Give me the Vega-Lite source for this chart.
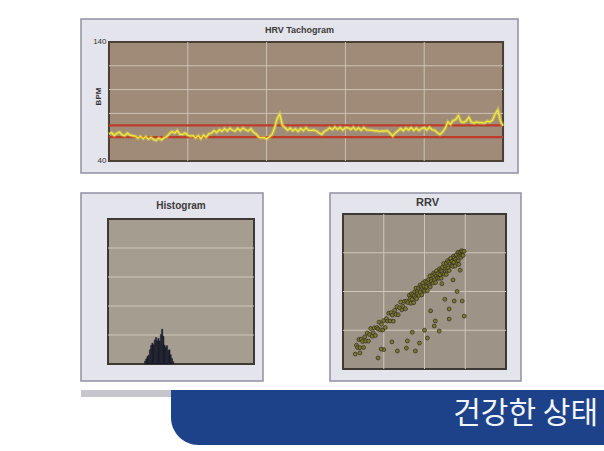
{
 "$schema": "https://vega.github.io/schema/vega-lite/v6.json",
 "background": "white",
 "padding": {"left": 80, "top": 18, "right": 0, "bottom": 0},
 "config": {"font": "Liberation Sans", "view": {"stroke": null}},
 "spacing": 8,
 "vconcat": [
  {
   "spacing": 18,
   "vconcat": [
    {
     "width": 437, "height": 154,
     "view": {"fill": "#e4e4ec", "stroke": "#8f90a2", "strokeWidth": 1.5},
     "title": {"text": "HRV Tachogram", "offset": -16, "fontSize": 9, "fontWeight": "bold", "color": "#3a3a3a"},
     "data": {"values": [{}]},
     "layer": [
      {"mark": {"type": "rect", "fill": "#a08a78", "stroke": "#4a4036", "strokeWidth": 2},
       "encoding": {
        "x": {"datum": 0, "type": "quantitative", "scale": {"domain": [-21.3, 311.4], "nice": false, "zero": false}, "axis": null},
        "x2": {"datum": 300},
        "y": {"datum": 40, "type": "quantitative", "scale": {"domain": [29.9, 159.3], "nice": false, "zero": false},
              "axis": {"values": [40, 140], "offset": -28, "grid": false, "domain": false, "ticks": false, "labelFontSize": 8, "labelColor": "#333333", "labelPadding": 3, "title": "BPM", "titleFontSize": 8, "titleFontWeight": "bold", "titleColor": "#333333", "titlePadding": -10, "zindex": 1}},
        "y2": {"datum": 140}
       }},
      {"mark": {"type": "rule", "color": "#cbc2b6", "strokeWidth": 1}, "encoding": {"x": {"datum": 60}, "y": {"datum": 40}, "y2": {"datum": 140}}},
      {"mark": {"type": "rule", "color": "#cbc2b6", "strokeWidth": 1}, "encoding": {"x": {"datum": 120}, "y": {"datum": 40}, "y2": {"datum": 140}}},
      {"mark": {"type": "rule", "color": "#cbc2b6", "strokeWidth": 1}, "encoding": {"x": {"datum": 180}, "y": {"datum": 40}, "y2": {"datum": 140}}},
      {"mark": {"type": "rule", "color": "#cbc2b6", "strokeWidth": 1}, "encoding": {"x": {"datum": 240}, "y": {"datum": 40}, "y2": {"datum": 140}}},
      {"mark": {"type": "rule", "color": "#cbc2b6", "strokeWidth": 1}, "encoding": {"y": {"datum": 80}, "x": {"datum": 0}, "x2": {"datum": 300}}},
      {"mark": {"type": "rule", "color": "#cbc2b6", "strokeWidth": 1}, "encoding": {"y": {"datum": 100}, "x": {"datum": 0}, "x2": {"datum": 300}}},
      {"mark": {"type": "rule", "color": "#cbc2b6", "strokeWidth": 1}, "encoding": {"y": {"datum": 120}, "x": {"datum": 0}, "x2": {"datum": 300}}},
      {"mark": {"type": "rule", "color": "#bd3b2b", "strokeWidth": 2.2}, "encoding": {"y": {"datum": 60}, "x": {"datum": 0}, "x2": {"datum": 300}}},
      {"mark": {"type": "rule", "color": "#bd3b2b", "strokeWidth": 2.2}, "encoding": {"y": {"datum": 70}, "x": {"datum": 0}, "x2": {"datum": 300}}},
      {
       "data": {"name": "tacho", "values": [
        {"t":0,"bpm":62.5},{"t":2,"bpm":63.9},{"t":4,"bpm":61.4},{"t":6,"bpm":63.2},{"t":8,"bpm":64.3},{"t":10,"bpm":61.9},{"t":12,"bpm":61.2},{"t":14,"bpm":63.4},{"t":16,"bpm":61.8},{"t":18,"bpm":61.2},
        {"t":20,"bpm":60.9},{"t":22,"bpm":59.2},{"t":24,"bpm":60.8},{"t":26,"bpm":58.7},{"t":28,"bpm":60.5},{"t":30,"bpm":58.3},{"t":32,"bpm":59.9},{"t":34,"bpm":57.9},{"t":36,"bpm":57.3},{"t":38,"bpm":59.3},
        {"t":40,"bpm":57.7},{"t":42,"bpm":59.6},{"t":44,"bpm":60.4},{"t":46,"bpm":63.0},{"t":48,"bpm":64.8},{"t":50,"bpm":63.3},{"t":52,"bpm":65.6},{"t":54,"bpm":62.4},{"t":56,"bpm":62.3},{"t":58,"bpm":63.5},
        {"t":60,"bpm":61.6},{"t":62,"bpm":60.9},{"t":64,"bpm":61.3},{"t":66,"bpm":59.4},{"t":68,"bpm":61.3},{"t":70,"bpm":58.8},{"t":72,"bpm":61.7},{"t":74,"bpm":59.8},{"t":76,"bpm":62.8},{"t":78,"bpm":63.4},
        {"t":80,"bpm":65.5},{"t":82,"bpm":63.8},{"t":84,"bpm":66.4},{"t":86,"bpm":64.9},{"t":88,"bpm":67.2},{"t":90,"bpm":65.2},{"t":92,"bpm":67.5},{"t":94,"bpm":65.8},{"t":96,"bpm":65.0},{"t":98,"bpm":67.3},
        {"t":100,"bpm":65.4},{"t":102,"bpm":67.7},{"t":104,"bpm":66.0},{"t":106,"bpm":65.1},{"t":108,"bpm":67.1},{"t":110,"bpm":64.2},{"t":112,"bpm":62.7},{"t":114,"bpm":60.0},{"t":116,"bpm":59.5},{"t":118,"bpm":59.8},
        {"t":120,"bpm":58.4},{"t":122,"bpm":60.1},{"t":124,"bpm":62.1},{"t":126,"bpm":67.4},{"t":128,"bpm":75.5},{"t":130,"bpm":79.4},{"t":132,"bpm":70.1},{"t":134,"bpm":68.0},{"t":136,"bpm":65.9},{"t":138,"bpm":67.6},
        {"t":140,"bpm":65.3},{"t":142,"bpm":67.0},{"t":144,"bpm":64.8},{"t":146,"bpm":67.3},{"t":148,"bpm":65.5},{"t":150,"bpm":67.8},{"t":152,"bpm":65.7},{"t":154,"bpm":65.7},{"t":156,"bpm":66.1},{"t":158,"bpm":65.2},
        {"t":160,"bpm":63.5},{"t":162,"bpm":62.4},{"t":164,"bpm":65.0},{"t":166,"bpm":66.0},{"t":168,"bpm":67.9},{"t":170,"bpm":66.3},{"t":172,"bpm":68.5},{"t":174,"bpm":66.5},{"t":176,"bpm":68.2},{"t":178,"bpm":65.9},
        {"t":180,"bpm":68.0},{"t":182,"bpm":67.9},{"t":184,"bpm":66.4},{"t":186,"bpm":68.3},{"t":188,"bpm":66.1},{"t":190,"bpm":67.8},{"t":192,"bpm":65.8},{"t":194,"bpm":68.1},{"t":196,"bpm":66.2},{"t":198,"bpm":65.9},
        {"t":200,"bpm":66.0},{"t":202,"bpm":65.3},{"t":204,"bpm":65.4},{"t":206,"bpm":64.7},{"t":208,"bpm":65.2},{"t":210,"bpm":65.1},{"t":212,"bpm":65.5},{"t":214,"bpm":63.2},{"t":216,"bpm":61.0},{"t":218,"bpm":63.6},
        {"t":220,"bpm":65.3},{"t":222,"bpm":67.3},{"t":224,"bpm":65.4},{"t":226,"bpm":67.7},{"t":228,"bpm":66.0},{"t":230,"bpm":68.0},{"t":232,"bpm":65.7},{"t":234,"bpm":67.6},{"t":236,"bpm":65.5},{"t":238,"bpm":67.2},
        {"t":240,"bpm":68.1},{"t":242,"bpm":65.9},{"t":244,"bpm":68.3},{"t":246,"bpm":66.2},{"t":248,"bpm":65.8},{"t":250,"bpm":63.7},{"t":252,"bpm":62.3},{"t":254,"bpm":64.3},{"t":256,"bpm":67.6},{"t":258,"bpm":72.8},
        {"t":260,"bpm":70.7},{"t":262,"bpm":74.0},{"t":264,"bpm":74.8},{"t":266,"bpm":78.2},{"t":268,"bpm":73.0},{"t":270,"bpm":72.3},{"t":272,"bpm":73.7},{"t":274,"bpm":76.7},{"t":276,"bpm":72.4},{"t":278,"bpm":71.9},
        {"t":280,"bpm":72.8},{"t":282,"bpm":72.2},{"t":284,"bpm":72.2},{"t":286,"bpm":71.8},{"t":288,"bpm":73.5},{"t":290,"bpm":72.7},{"t":292,"bpm":74.4},{"t":294,"bpm":79.5},{"t":296,"bpm":83.0},{"t":298,"bpm":73.8},
        {"t":300,"bpm":69.5}
       ]},
       "layer": [
        {"mark": {"type": "line", "color": "#d6ce4a", "strokeWidth": 3.6, "opacity": 0.5}, "encoding": {"x": {"field": "t", "type": "quantitative"}, "y": {"field": "bpm", "type": "quantitative"}}},
        {"mark": {"type": "line", "color": "#f1e93e", "strokeWidth": 1.3}, "encoding": {"x": {"field": "t", "type": "quantitative"}, "y": {"field": "bpm", "type": "quantitative"}}}
       ]
      }
     ]
    },
    {
     "spacing": 65,
     "hconcat": [
      {
       "width": 182, "height": 188,
       "view": {"fill": "#e4e4ec", "stroke": "#8f90a2", "strokeWidth": 1.5},
       "title": {"text": "Histogram", "offset": -18, "fontSize": 10, "fontWeight": "bold", "color": "#3a3a3a", "dx": 9},
       "data": {"values": [{}]},
       "layer": [
        {"mark": {"type": "rect", "fill": "#a59d8f", "stroke": "#3e3a33", "strokeWidth": 2},
         "encoding": {
          "x": {"datum": 500, "type": "quantitative", "scale": {"domain": [278, 1774], "nice": false, "zero": false}, "axis": null},
          "x2": {"datum": 1700},
          "y": {"datum": 0, "type": "quantitative", "scale": {"domain": [-5.86, 58.97], "nice": false, "zero": false}, "axis": null},
          "y2": {"datum": 50}
         }},
        {"mark": {"type": "rule", "color": "#cdc6ba", "strokeWidth": 1}, "encoding": {"y": {"datum": 10}, "x": {"datum": 500}, "x2": {"datum": 1700}}},
        {"mark": {"type": "rule", "color": "#cdc6ba", "strokeWidth": 1}, "encoding": {"y": {"datum": 20}, "x": {"datum": 500}, "x2": {"datum": 1700}}},
        {"mark": {"type": "rule", "color": "#cdc6ba", "strokeWidth": 1}, "encoding": {"y": {"datum": 30}, "x": {"datum": 500}, "x2": {"datum": 1700}}},
        {"mark": {"type": "rule", "color": "#cdc6ba", "strokeWidth": 1}, "encoding": {"y": {"datum": 40}, "x": {"datum": 500}, "x2": {"datum": 1700}}},
        {
         "data": {"values": [
          {"b0":800,"b1":810,"n":1.0},{"b0":810,"b1":820,"n":1.8},{"b0":820,"b1":830,"n":2.6},{"b0":830,"b1":840,"n":3.1},
          {"b0":840,"b1":850,"n":4.9},{"b0":850,"b1":860,"n":6.4},{"b0":860,"b1":870,"n":7.2},{"b0":870,"b1":880,"n":6.6},
          {"b0":880,"b1":890,"n":8.3},{"b0":890,"b1":900,"n":9.1},{"b0":900,"b1":910,"n":8.0},{"b0":910,"b1":920,"n":8.8},
          {"b0":920,"b1":930,"n":7.9},{"b0":930,"b1":940,"n":10.2},{"b0":940,"b1":950,"n":12.0},{"b0":950,"b1":960,"n":9.6},
          {"b0":960,"b1":970,"n":6.5},{"b0":970,"b1":980,"n":5.8},{"b0":980,"b1":990,"n":6.3},{"b0":990,"b1":1000,"n":4.7},
          {"b0":1000,"b1":1010,"n":4.9},{"b0":1010,"b1":1020,"n":3.2},{"b0":1020,"b1":1030,"n":1.9},{"b0":1030,"b1":1040,"n":0.9}
         ]},
         "mark": {"type": "rect", "fill": "#1b1e2c", "stroke": "#1b1e2c", "strokeWidth": 0.5},
         "encoding": {
          "x": {"field": "b0", "type": "quantitative"},
          "x2": {"field": "b1"},
          "y": {"field": "n", "type": "quantitative"},
          "y2": {"datum": 0}
         }
        }
       ]
      },
      {
       "width": 191, "height": 188,
       "view": {"fill": "#e4e4ec", "stroke": "#8f90a2", "strokeWidth": 1.5},
       "title": {"text": "RRV", "offset": -15, "fontSize": 11, "fontWeight": "bold", "color": "#3a3a3a", "dx": 2},
       "data": {"values": [{}]},
       "layer": [
        {"mark": {"type": "rect", "fill": "#9d9487", "stroke": "#3e3a33", "strokeWidth": 2},
         "encoding": {
          "x": {"datum": 500, "type": "quantitative", "scale": {"domain": [436.2, 1373.6], "nice": false, "zero": false}, "axis": null},
          "x2": {"datum": 1300},
          "y": {"datum": 500, "type": "quantitative", "scale": {"domain": [438.1, 1408.4], "nice": false, "zero": false}, "axis": null},
          "y2": {"datum": 1300}
         }},
        {"mark": {"type": "rule", "color": "#cdc6ba", "strokeWidth": 1}, "encoding": {"x": {"datum": 700}, "y": {"datum": 500}, "y2": {"datum": 1300}}},
        {"mark": {"type": "rule", "color": "#cdc6ba", "strokeWidth": 1}, "encoding": {"x": {"datum": 900}, "y": {"datum": 500}, "y2": {"datum": 1300}}},
        {"mark": {"type": "rule", "color": "#cdc6ba", "strokeWidth": 1}, "encoding": {"x": {"datum": 1100}, "y": {"datum": 500}, "y2": {"datum": 1300}}},
        {"mark": {"type": "rule", "color": "#cdc6ba", "strokeWidth": 1}, "encoding": {"y": {"datum": 700}, "x": {"datum": 500}, "x2": {"datum": 1300}}},
        {"mark": {"type": "rule", "color": "#cdc6ba", "strokeWidth": 1}, "encoding": {"y": {"datum": 900}, "x": {"datum": 500}, "x2": {"datum": 1300}}},
        {"mark": {"type": "rule", "color": "#cdc6ba", "strokeWidth": 1}, "encoding": {"y": {"datum": 1100}, "x": {"datum": 500}, "x2": {"datum": 1300}}},
        {
         "data": {"values": [
          {"rr":560,"rr1":577},{"rr":566,"rr1":623},{"rr":571,"rr1":611},{"rr":578,"rr1":652},{"rr":583,"rr1":610},{"rr":589,"rr1":654},{"rr":596,"rr1":642},{"rr":601,"rr1":611},
          {"rr":607,"rr1":666},{"rr":612,"rr1":644},{"rr":619,"rr1":686},{"rr":625,"rr1":644},{"rr":630,"rr1":678},{"rr":636,"rr1":709},{"rr":643,"rr1":669},{"rr":648,"rr1":687},
          {"rr":654,"rr1":712},{"rr":659,"rr1":673},{"rr":666,"rr1":714},{"rr":672,"rr1":707},{"rr":677,"rr1":742},{"rr":684,"rr1":702},{"rr":689,"rr1":731},{"rr":695,"rr1":701},
          {"rr":700,"rr1":750},{"rr":707,"rr1":714},{"rr":713,"rr1":760},{"rr":718,"rr1":748},{"rr":724,"rr1":788},{"rr":731,"rr1":748},{"rr":736,"rr1":791},{"rr":742,"rr1":778},
          {"rr":747,"rr1":747},{"rr":754,"rr1":803},{"rr":760,"rr1":782},{"rr":765,"rr1":822},{"rr":771,"rr1":780},{"rr":778,"rr1":816},{"rr":783,"rr1":846},{"rr":789,"rr1":805},
          {"rr":794,"rr1":824},{"rr":801,"rr1":849},{"rr":807,"rr1":811},{"rr":812,"rr1":850},{"rr":818,"rr1":843},{"rr":825,"rr1":880},
          {"rr":830,"rr1":865},{"rr":833,"rr1":839},{"rr":835,"rr1":889},{"rr":839,"rr1":859},{"rr":842,"rr1":883},{"rr":847,"rr1":842},{"rr":849,"rr1":877},{"rr":852,"rr1":899},
          {"rr":856,"rr1":868},{"rr":858,"rr1":917},{"rr":861,"rr1":862},{"rr":864,"rr1":900},{"rr":866,"rr1":889},{"rr":870,"rr1":918},{"rr":873,"rr1":880},{"rr":878,"rr1":933},
          {"rr":880,"rr1":895},{"rr":883,"rr1":924},{"rr":887,"rr1":883},{"rr":889,"rr1":916},{"rr":892,"rr1":944},{"rr":895,"rr1":906},{"rr":897,"rr1":928},{"rr":901,"rr1":902},
          {"rr":904,"rr1":953},{"rr":909,"rr1":925},{"rr":911,"rr1":948},{"rr":914,"rr1":904},{"rr":918,"rr1":941},{"rr":920,"rr1":962},{"rr":923,"rr1":931},{"rr":926,"rr1":981},
          {"rr":928,"rr1":924},{"rr":932,"rr1":963},{"rr":935,"rr1":953},{"rr":940,"rr1":984},{"rr":942,"rr1":944},{"rr":945,"rr1":995},{"rr":949,"rr1":959},{"rr":951,"rr1":988},
          {"rr":954,"rr1":946},{"rr":957,"rr1":979},{"rr":959,"rr1":1006},{"rr":963,"rr1":969},{"rr":966,"rr1":992},{"rr":971,"rr1":968},{"rr":973,"rr1":1017},{"rr":976,"rr1":987},
          {"rr":980,"rr1":1012},{"rr":982,"rr1":968},{"rr":985,"rr1":1004},{"rr":988,"rr1":1025},{"rr":990,"rr1":993},{"rr":994,"rr1":1044},{"rr":997,"rr1":989},{"rr":1002,"rr1":1028},
          {"rr":1004,"rr1":1017},{"rr":1007,"rr1":1046},{"rr":1011,"rr1":1009},{"rr":1013,"rr1":1059},{"rr":1016,"rr1":1021},{"rr":1019,"rr1":1051},{"rr":1021,"rr1":1008},{"rr":1025,"rr1":1043},
          {"rr":1028,"rr1":1071},{"rr":1033,"rr1":1034},{"rr":1035,"rr1":1056},{"rr":1038,"rr1":1030},{"rr":1042,"rr1":1082},{"rr":1044,"rr1":1051},{"rr":1047,"rr1":1074},{"rr":1050,"rr1":1031},
          {"rr":1052,"rr1":1066},{"rr":1056,"rr1":1089},{"rr":1059,"rr1":1058},{"rr":1064,"rr1":1102},{"rr":1066,"rr1":1058},{"rr":1069,"rr1":1089},{"rr":1073,"rr1":1082},{"rr":1075,"rr1":1102},
          {"rr":1078,"rr1":1076},{"rr":1081,"rr1":1110},{"rr":1083,"rr1":1088},{"rr":1087,"rr1":1108},{"rr":1090,"rr1":1086},{"rr":1095,"rr1":1108},
          {"rr":1085,"rr1":851},{"rr":1095,"rr1":773},{"rr":1021,"rr1":758},{"rr":948,"rr1":722},{"rr":972,"rr1":696},{"rr":914,"rr1":660},{"rr":875,"rr1":634},{"rr":816,"rr1":645},
          {"rr":811,"rr1":608},{"rr":767,"rr1":593},{"rr":855,"rr1":593},{"rr":1046,"rr1":851},{"rr":1021,"rr1":810},{"rr":953,"rr1":748},{"rr":1060,"rr1":900},{"rr":1000,"rr1":860},
          {"rr":900,"rr1":700},{"rr":840,"rr1":690},{"rr":700,"rr1":600},{"rr":672,"rr1":557},{"rr":740,"rr1":640},{"rr":930,"rr1":800},{"rr":1040,"rr1":960},{"rr":1075,"rr1":1010},
          {"rr":583,"rr1":583},{"rr":687,"rr1":603},{"rr":1007,"rr1":988},{"rr":1068,"rr1":1040},{"rr":985,"rr1":940}
         ]},
         "mark": {"type": "circle", "size": 15, "fill": "#7c7734", "stroke": "#343118", "strokeWidth": 0.8, "opacity": 0.95},
         "encoding": {
          "x": {"field": "rr", "type": "quantitative"},
          "y": {"field": "rr1", "type": "quantitative"}
         }
        }
       ]
      }
     ]
    }
   ]
  },
  {
   "spacing": 0,
   "hconcat": [
    {
     "width": 90, "height": 7,
     "view": {"fill": "#c6c7cd", "stroke": null},
     "data": {"values": []},
     "mark": {"type": "rect"},
     "encoding": {}
    },
    {
     "width": 434, "height": 55,
     "view": {"stroke": null},
     "data": {"values": [{"label": "건강한 상태"}]},
     "layer": [
      {"mark": {"type": "rect", "fill": "#1e4289", "cornerRadiusBottomLeft": 34},
       "encoding": {
        "x": {"datum": 0, "type": "quantitative", "scale": {"domain": [0, 1], "nice": false, "zero": false}, "axis": null},
        "x2": {"datum": 1},
        "y": {"datum": 0, "type": "quantitative", "scale": {"domain": [0, 1], "nice": false, "zero": false}, "axis": null},
        "y2": {"datum": 1}
       }},
      {"mark": {"type": "text", "align": "right", "baseline": "middle", "dx": -7, "font": "Noto Sans CJK KR", "fontSize": 30, "color": "#f2f5fb"},
       "encoding": {
        "text": {"field": "label"},
        "x": {"datum": 1},
        "y": {"datum": 0.56}
       }}
     ]
    }
   ]
  }
 ]
}
